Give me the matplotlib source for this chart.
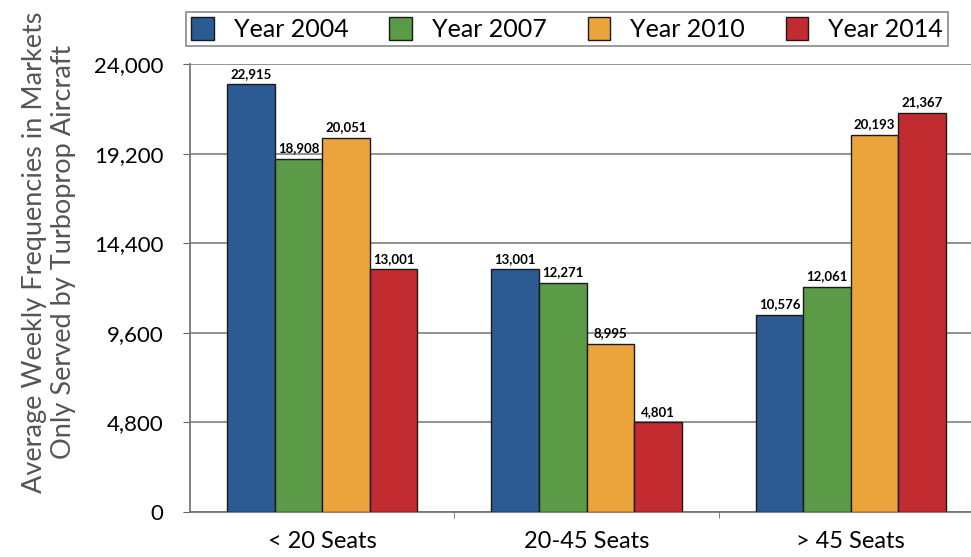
import matplotlib.pyplot as plt
import numpy as np

# Data
categories = ['< 20 Seats', '20-45 Seats', '> 45 Seats']
years = ['Year 2004', 'Year 2007', 'Year 2010', 'Year 2014']
values = {
    'Year 2004': [22915, 13001, 10576],
    'Year 2007': [18908, 12271, 12061],
    'Year 2010': [20051, 8995, 20193],
    'Year 2014': [13001, 4801, 21367],
}
yticks = [0, 4800, 9600, 14400, 19200, 24000]
colors = ['#2C5A92', '#5B9A46', '#EBA43C', '#C22B30']

plt.rcParams['font.family'] = ['Lato', 'DejaVu Sans']

fig = plt.figure(figsize=(9.71, 5.57), dpi=100)
# axes: x 190..983 px, y 64..512 px
ax = fig.add_axes([190 / 971, 1 - 512 / 557, 793 / 971, 448 / 557])

x = np.arange(len(categories))
w = 0.18
for i, yr in enumerate(years):
    pos = x + (i - 1.5) * w
    bars = ax.bar(pos, values[yr], w, color=colors[i], edgecolor='#1a1a1a',
                  linewidth=1.0, label=yr, zorder=3)
    for b, v in zip(bars, values[yr]):
        ax.text(b.get_x() + b.get_width() / 2, v + 250, f'{v:,}',
                ha='center', va='bottom', fontsize=9.5, fontweight='bold', zorder=4)

ax.set_xlim(-0.5, 2.5)
ax.set_ylim(0, 24000)
ax.set_yticks(yticks)
ax.set_yticklabels([f'{t:,}' for t in yticks], fontsize=16)
ax.yaxis.grid(True, color='#8a8a8a', linewidth=1.3, zorder=0)
ax.set_axisbelow(True)

ax.set_xticks(x)
ax.set_xticklabels(categories, fontsize=17)
ax.set_xticks([0.5, 1.5], minor=True)
ax.tick_params(axis='x', which='major', length=0, pad=14)
ax.tick_params(axis='x', which='minor', length=4, color='#666666', direction='out')
ax.tick_params(axis='y', length=5, color='#666666', pad=14)

for s in ['top', 'right']:
    ax.spines[s].set_visible(False)
for s in ['left', 'bottom']:
    ax.spines[s].set_color('#777777')
    ax.spines[s].set_linewidth(1.3)

fig.text(0.05, 0.547, 'Average Weekly Frequencies in Markets\nOnly Served by Turboprop Aircraft',
         rotation=90, ha='center', va='center', fontsize=19.5, color='#555555',
         linespacing=1.2)

handles, labels = ax.get_legend_handles_labels()
leg = fig.legend(handles, labels, loc='lower left', ncol=4, mode='expand',
                 bbox_to_anchor=(186 / 971, 1 - 46 / 557, 762 / 971, 34 / 557),
                 fontsize=18, frameon=True, fancybox=False, borderaxespad=0,
                 handlelength=0.9, handleheight=1.0, handletextpad=0.8,
                 borderpad=0.2)
leg.get_frame().set_edgecolor('#777777')
leg.get_frame().set_linewidth(1.3)

fig.savefig('out.png', dpi=100)
